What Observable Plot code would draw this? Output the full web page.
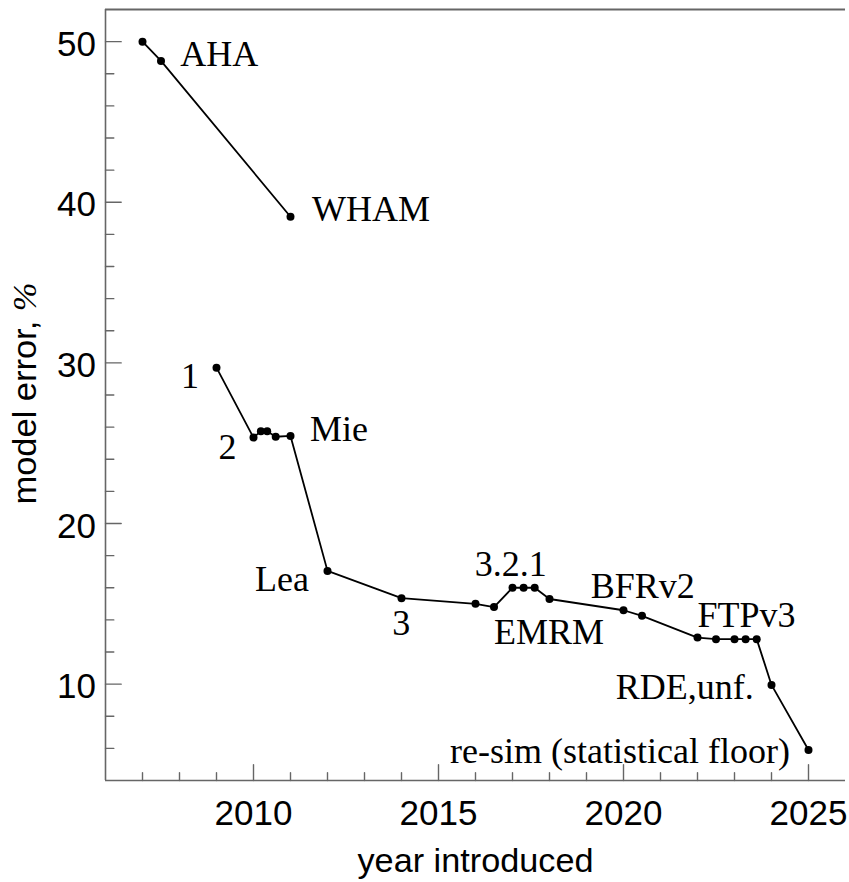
<!DOCTYPE html>
<html><head><meta charset="utf-8">
<script src="https://cdn.jsdelivr.net/npm/d3@7"></script>
<script src="https://cdn.jsdelivr.net/npm/@observablehq/plot@0.6"></script>
<style>html,body{margin:0;padding:0;background:#fff}</style>
</head><body><div id="chart"></div>
<script>
// data
const years  = [2007, 2007.5, 2011, 2009, 2010, 2010.2, 2010.37, 2010.6, 2011, 2012, 2014, 2016, 2016.5, 2017, 2017.3, 2017.6, 2018, 2020, 2020.5, 2022, 2022.5, 2023, 2023.3, 2023.6, 2024, 2025];
const errors = [50, 48.8, 39.1, 29.7, 25.35, 25.75, 25.75, 25.4, 25.45, 17.05, 15.35, 15.0, 14.8, 16.0, 16.0, 16.0, 15.3, 14.6, 14.25, 12.9, 12.8, 12.8, 12.8, 12.8, 9.95, 5.9];
const series = ["a","a","a","b","b","b","b","b","b","b","b","b","b","b","b","b","b","b","b","b","b","b","b","b","b","b"];

const labelTexts  = ["AHA","WHAM","1","2","Mie","Lea","3","3.2.1","EMRM","BFRv2","FTPv3","RDE,unf.","re-sim (statistical floor)"];
const labelX      = [2008.02, 2011.58, 2008.53, 2009.54, 2011.53, 2011.5, 2013.99, 2016.95, 2016.5, 2020.52, 2022.0, 2023.52, 2024.5];
const labelY      = [49.22, 39.53, 29.13, 24.71, 25.85, 16.5, 13.79, 17.47, 13.2, 16.09, 14.26, 9.78, 5.79];
const labelAnchor = ["start","start","end","end","start","end","middle","middle","start","middle","start","end","end"];

const xDomain = [2006, 2026];
const yDomain = [4, 52];
const xMajor = [2010, 2015, 2020, 2025];
const xMinor = [2007, 2008, 2009, 2011, 2012, 2013, 2014, 2016, 2017, 2018, 2019, 2021, 2022, 2023, 2024];
const yMajor = [10, 20, 30, 40, 50];
const yMinor = [6, 8, 12, 14, 16, 18, 22, 24, 26, 28, 32, 34, 36, 38, 42, 44, 46, 48];
const xLabel = "year introduced";
const yLabelMain = "model error, ";
const yLabelUnit = "%";

const points = years.map((x, i) => ({x, y: errors[i], s: series[i]}));
const labels = labelTexts.map((t, i) => ({t, x: labelX[i], y: labelY[i], a: labelAnchor[i]}));

const gray = "#666";
const serif = "'Liberation Serif', 'Times New Roman', serif";
const sans = "'Liberation Sans', Arial, sans-serif";

// straight inward tick drawn by the vector mark
const tickShape = {draw(context, l) { context.moveTo(0, 0); context.lineTo(0, -l); }};
const xTicks = (vals, len) => Plot.vector(vals, {x: d => d, y: () => yDomain[0], length: len, rotate: 0, anchor: "start", shape: tickShape, stroke: gray, strokeWidth: 1.4});
const yTicks = (vals, len) => Plot.vector(vals, {x: () => xDomain[0], y: d => d, length: len, rotate: 90, anchor: "start", shape: tickShape, stroke: gray, strokeWidth: 1.4});

const textMarks = ["start", "middle", "end"].map(a =>
  Plot.text(labels.filter(d => d.a === a), {
    x: "x", y: "y", text: "t", textAnchor: a, lineAnchor: "middle",
    fontFamily: serif, fontSize: 36, fill: "black"
  })
);

const svg = Plot.plot({
  width: 849, height: 882,
  marginLeft: 105, marginTop: 9, marginRight: 4, marginBottom: 102,
  style: {fontFamily: sans, fontSize: "35px", background: "white", color: "black"},
  x: {domain: xDomain, axis: null},
  y: {domain: yDomain, axis: null},
  marks: [
    Plot.ruleY([yDomain[1]], {stroke: gray, strokeWidth: 2}),
    Plot.ruleY([yDomain[0]], {stroke: gray, strokeWidth: 1.6}),
    Plot.ruleX([xDomain[0]], {stroke: gray, strokeWidth: 1.6}),
    xTicks(xMinor, 7.7),
    xTicks(xMajor, 15.7),
    yTicks(yMinor, 8.3),
    yTicks(yMajor, 15.7),
    Plot.text(xMajor, {x: d => d, frameAnchor: "bottom", textAnchor: "middle", lineAnchor: "middle", dy: 33.2,
      text: d => String(d), fontFamily: sans, fontSize: 35, fill: "black"}),
    Plot.text(yMajor, {y: d => d, frameAnchor: "left", textAnchor: "end", lineAnchor: "middle", dx: -9.5, dy: 3,
      text: d => String(d), fontFamily: sans, fontSize: 35, fill: "black"}),
    Plot.text([xLabel], {frameAnchor: "bottom", textAnchor: "middle", lineAnchor: "middle", dy: 81.1,
      fontSize: 34, fontFamily: sans, fill: "black"}),
    Plot.text([yLabelMain + yLabelUnit], {frameAnchor: "left", textAnchor: "middle", lineAnchor: "middle", rotate: -90, dx: -80.2, dy: -1.5,
      fontSize: 34, fontFamily: sans, fill: "black"}),
    Plot.line(points, {x: "x", y: "y", z: "s", stroke: "black", strokeWidth: 1.8}),
    Plot.dot(points, {x: "x", y: "y", r: 4, fill: "black", stroke: "none"}),
    ...textMarks
  ]
});

const allTexts = Array.from(svg.querySelectorAll("text"));
// y label: unit in italic serif as in the original
const yl = allTexts.find(t => t.textContent === yLabelMain + yLabelUnit);
if (yl) {
  yl.textContent = yLabelMain;
  const ts = document.createElementNS("http://www.w3.org/2000/svg", "tspan");
  ts.setAttribute("font-family", serif);
  ts.setAttribute("font-style", "italic");
  ts.textContent = yLabelUnit;
  yl.appendChild(ts);
  yl.setAttribute("textLength", 222);
  yl.setAttribute("lengthAdjust", "spacingAndGlyphs");
}
const xl = allTexts.find(t => t.textContent === xLabel);
if (xl) {
  xl.setAttribute("textLength", 236);
  xl.setAttribute("lengthAdjust", "spacingAndGlyphs");
}
document.getElementById("chart").appendChild(svg);
</script>
</body></html>
